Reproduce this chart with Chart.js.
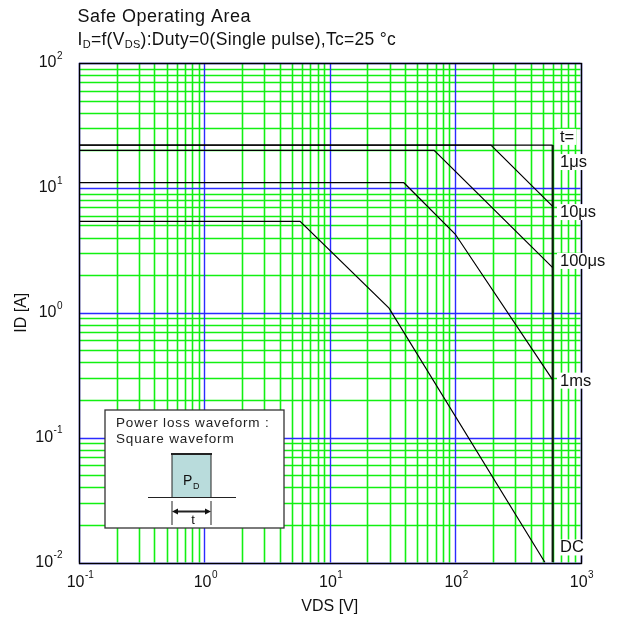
<!DOCTYPE html>
<html>
<head>
<meta charset="utf-8">
<script src="https://cdn.jsdelivr.net/npm/chart.js@4.4.1/dist/chart.umd.min.js"></script>
<style>
html,body{margin:0;background:#fff}
#wrap{width:622px;height:626px;position:relative}
</style>
</head>
<body>
<div id="wrap"><canvas id="soa"></canvas></div>
<script>
// axis decades and their labels (base, exponent)
const xDecades=[0.1,1,10,100,1000];
const yDecades=[0.01,0.1,1,10,100];
const xTickLabels=[["10","-1"],["10","0"],["10","1"],["10","2"],["10","3"]];
const yTickLabels=[["10","-2"],["10","-1"],["10","0"],["10","1"],["10","2"]];

// pulse widths, labelled on the right
const curveNames=["1μs","10μs","100μs","1ms","DC"];

// VDS [V] / ID [A] for each limit curve
const vds1us=[0.1,600];
const id1us=[22,22];
const vds10us=[0.1,193,600];
const id10us=[22,22,7.1];
const vds100us=[0.1,68,600];
const id100us=[20,20,2.3];
const vds1ms=[0.1,39,100,600];
const id1ms=[11,11,4.27,0.29];
const vdsDC=[0.1,5.8,29.7,521];
const idDC=[5.4,5.4,1.09,0.01];

// VDSS limit
const vdsMax=[600,600];
const idMax=[0.01,22];

const FONT='"Liberation Sans", Arial, sans-serif';

function pts(xs,ys){
    return xs.map((x,i)=>({x:x,y:ys[i]}));
}

// 1..9 in every decade
function logTicks(decades){
    let t=[];
    decades.forEach((d,i)=>{
        if(i==decades.length-1){
            t.push({value:d,major:true});
            return;
        }
        for(let m=1;m<10;m++){
            t.push({value:+(d*m).toPrecision(3),major:m==1});
        }
    });
    return t;
}

// text pieces: [text, 0 normal | 1 subscript]
function drawPieces(ctx,pieces,x,y,size,spacing){
    ctx.textAlign="left";
    ctx.textBaseline="alphabetic";
    pieces.forEach(p=>{
        let fs=p[1]==1?Math.round(size*0.62):size;
        let dy=p[1]==1?size*0.22:0;
        ctx.font=fs+"px "+FONT;
        ctx.letterSpacing=(spacing||0)+"px";
        ctx.fillText(p[0],x,y+dy);
        x+=ctx.measureText(p[0]).width;
    });
    ctx.letterSpacing="0px";
}

function powerLabel(ctx,lab,x,y,align){
    ctx.font="16px "+FONT;
    let w1=ctx.measureText(lab[0]).width;
    ctx.font="10px "+FONT;
    let w2=ctx.measureText(lab[1]).width;
    let left = align=="right" ? x-w1-w2 : x-(w1+w2)/2;
    ctx.textBaseline="middle";
    ctx.textAlign="left";
    ctx.font="16px "+FONT;
    ctx.fillText(lab[0],left,y);
    ctx.font="10px "+FONT;
    ctx.fillText(lab[1],left+w1+0.5,y-7);
}

const grid={
    id:"soaGrid",
    beforeDatasetsDraw(chart){
        const ctx=chart.ctx;
        const xs=chart.scales.x, ys=chart.scales.y;
        const a=chart.chartArea;
        ctx.save();
        const line=(x1,y1,x2,y2,color,w)=>{
            ctx.strokeStyle=color;
            ctx.lineWidth=w;
            ctx.beginPath();
            ctx.moveTo(x1,y1);
            ctx.lineTo(x2,y2);
            ctx.stroke();
        };
        // minor first, decades on top
        [false,true].forEach(maj=>{
            logTicks(xDecades).forEach(t=>{
                if(t.major!=maj) return;
                let p=Math.round(xs.getPixelForValue(t.value))+0.5;
                line(p,a.top,p,a.bottom,maj?"#2b2bff":"#12f012",maj?1.4:1.6);
            });
            logTicks(yDecades).forEach(t=>{
                if(t.major!=maj) return;
                let p=Math.round(ys.getPixelForValue(t.value))+0.5;
                line(a.left,p,a.right,p,maj?"#2b2bff":"#12f012",maj?1.4:1.6);
            });
        });
        ctx.strokeStyle="#000";
        ctx.lineWidth=1.4;
        ctx.strokeRect(Math.round(a.left)+0.5,Math.round(a.top)+0.5,
            Math.round(a.right-a.left),Math.round(a.bottom-a.top));
        ctx.restore();
    }
};

const decor={
    id:"decor",
    afterDraw(chart){
        const ctx=chart.ctx;
        const xs=chart.scales.x, ys=chart.scales.y;
        const area=chart.chartArea;
        ctx.save();
        ctx.fillStyle="#111";

        // titles
        drawPieces(ctx,[["Safe Operating Area",0]],77.5,21.5,18,0.5);
        drawPieces(ctx,[
            ["I",0],["D",1],["=f(V",0],["DS",1],
            ["):Duty=0(Single pulse),Tc=25 °c",0]
        ],77.5,44.5,17.5,0.3);

        // tick labels
        yDecades.forEach((v,i)=>{
            powerLabel(ctx,yTickLabels[i],area.left-17,ys.getPixelForValue(v),"right");
        });
        xDecades.forEach((v,i)=>{
            powerLabel(ctx,xTickLabels[i],xs.getPixelForValue(v)+1,area.bottom+20,"center");
        });

        // axis titles
        ctx.font="16px "+FONT;
        ctx.textAlign="center";
        ctx.textBaseline="middle";
        ctx.fillText("VDS [V]",(area.left+area.right)/2,607);
        ctx.save();
        ctx.translate(22,(area.top+area.bottom)/2);
        ctx.rotate(-Math.PI/2);
        ctx.fillText("ID [A]",0,0);
        ctx.restore();

        // curve labels on the right
        const labelAt=[25.6,16.1,6.4,2.6,0.286,0.0132];
        const names=["t="].concat(curveNames);
        ctx.font="16.5px "+FONT;
        ctx.textAlign="left";
        names.forEach((n,i)=>{
            let y=ys.getPixelForValue(labelAt[i]);
            let w=ctx.measureText(n).width;
            ctx.fillStyle="#fff";
            ctx.fillRect(557,y-8,w+5,16);
            ctx.fillStyle="#111";
            ctx.fillText(n,560,y+0.5);
        });

        // inset: power loss waveform
        ctx.fillStyle="#fff";
        ctx.fillRect(105,410,179,118);
        ctx.strokeStyle="#333";
        ctx.lineWidth=1.3;
        ctx.strokeRect(105,410,179,118);
        ctx.fillStyle="#222";
        drawPieces(ctx,[["Power loss waveform :",0]],116,427,13.5,0.85);
        drawPieces(ctx,[["Square waveform",0]],116,443,13.5,0.85);

        ctx.fillStyle="#b9dcdc";
        ctx.fillRect(172,454,39,44);
        ctx.strokeStyle="#222";
        ctx.lineWidth=1;
        ctx.beginPath();
        ctx.moveTo(172,498);ctx.lineTo(172,454);
        ctx.moveTo(211,454);ctx.lineTo(211,498);
        ctx.moveTo(148,497.5);ctx.lineTo(236,497.5);
        ctx.moveTo(172,501);ctx.lineTo(172,525);
        ctx.moveTo(211,501);ctx.lineTo(211,525);
        ctx.stroke();
        ctx.lineWidth=2.2;
        ctx.beginPath();
        ctx.moveTo(171,454);ctx.lineTo(212,454);
        ctx.stroke();
        ctx.lineWidth=2;
        ctx.beginPath();
        ctx.moveTo(176,511.5);ctx.lineTo(207,511.5);
        ctx.stroke();
        ctx.fillStyle="#111";
        ctx.beginPath();
        ctx.moveTo(172,511.5);ctx.lineTo(178,508.5);ctx.lineTo(178,514.5);ctx.closePath();
        ctx.moveTo(211,511.5);ctx.lineTo(205,508.5);ctx.lineTo(205,514.5);ctx.closePath();
        ctx.fill();
        drawPieces(ctx,[["P",0]],183,485,14,0);
        ctx.font="9px "+FONT;
        ctx.fillText("D",193,489);
        ctx.font="13px "+FONT;
        ctx.textAlign="center";
        ctx.textBaseline="alphabetic";
        ctx.fillText("t",193,524);

        ctx.restore();
    }
};

function curve(xs,ys,w,color){
    return {
        data:pts(xs,ys),
        showLine:true,
        borderColor:color||"#000",
        borderWidth:w||1.2,
        pointRadius:0,
        fill:false
    };
}

new Chart(
    document.getElementById("soa"),
    {
        type:"scatter",
        data:{
            datasets:[
                curve(vds1us,id1us),
                curve(vds10us,id10us),
                curve(vds100us,id100us),
                curve(vds1ms,id1ms),
                curve(vdsDC,idDC),
                curve(vdsMax,idMax,2.2,"#0c1e0c")
            ]
        },
        options:{
            responsive:true,
            maintainAspectRatio:false,
            animation:false,
            layout:{
                padding:{left:79,top:63,right:41.5,bottom:63.5}
            },
            plugins:{
                legend:{display:false},
                tooltip:{enabled:false}
            },
            scales:{
                x:{
                    type:"logarithmic",
                    display:false,
                    min:0.1,
                    max:1000
                },
                y:{
                    type:"logarithmic",
                    display:false,
                    min:0.01,
                    max:100
                }
            }
        },
        plugins:[grid,decor]
    }
);
</script>
</body>
</html>
